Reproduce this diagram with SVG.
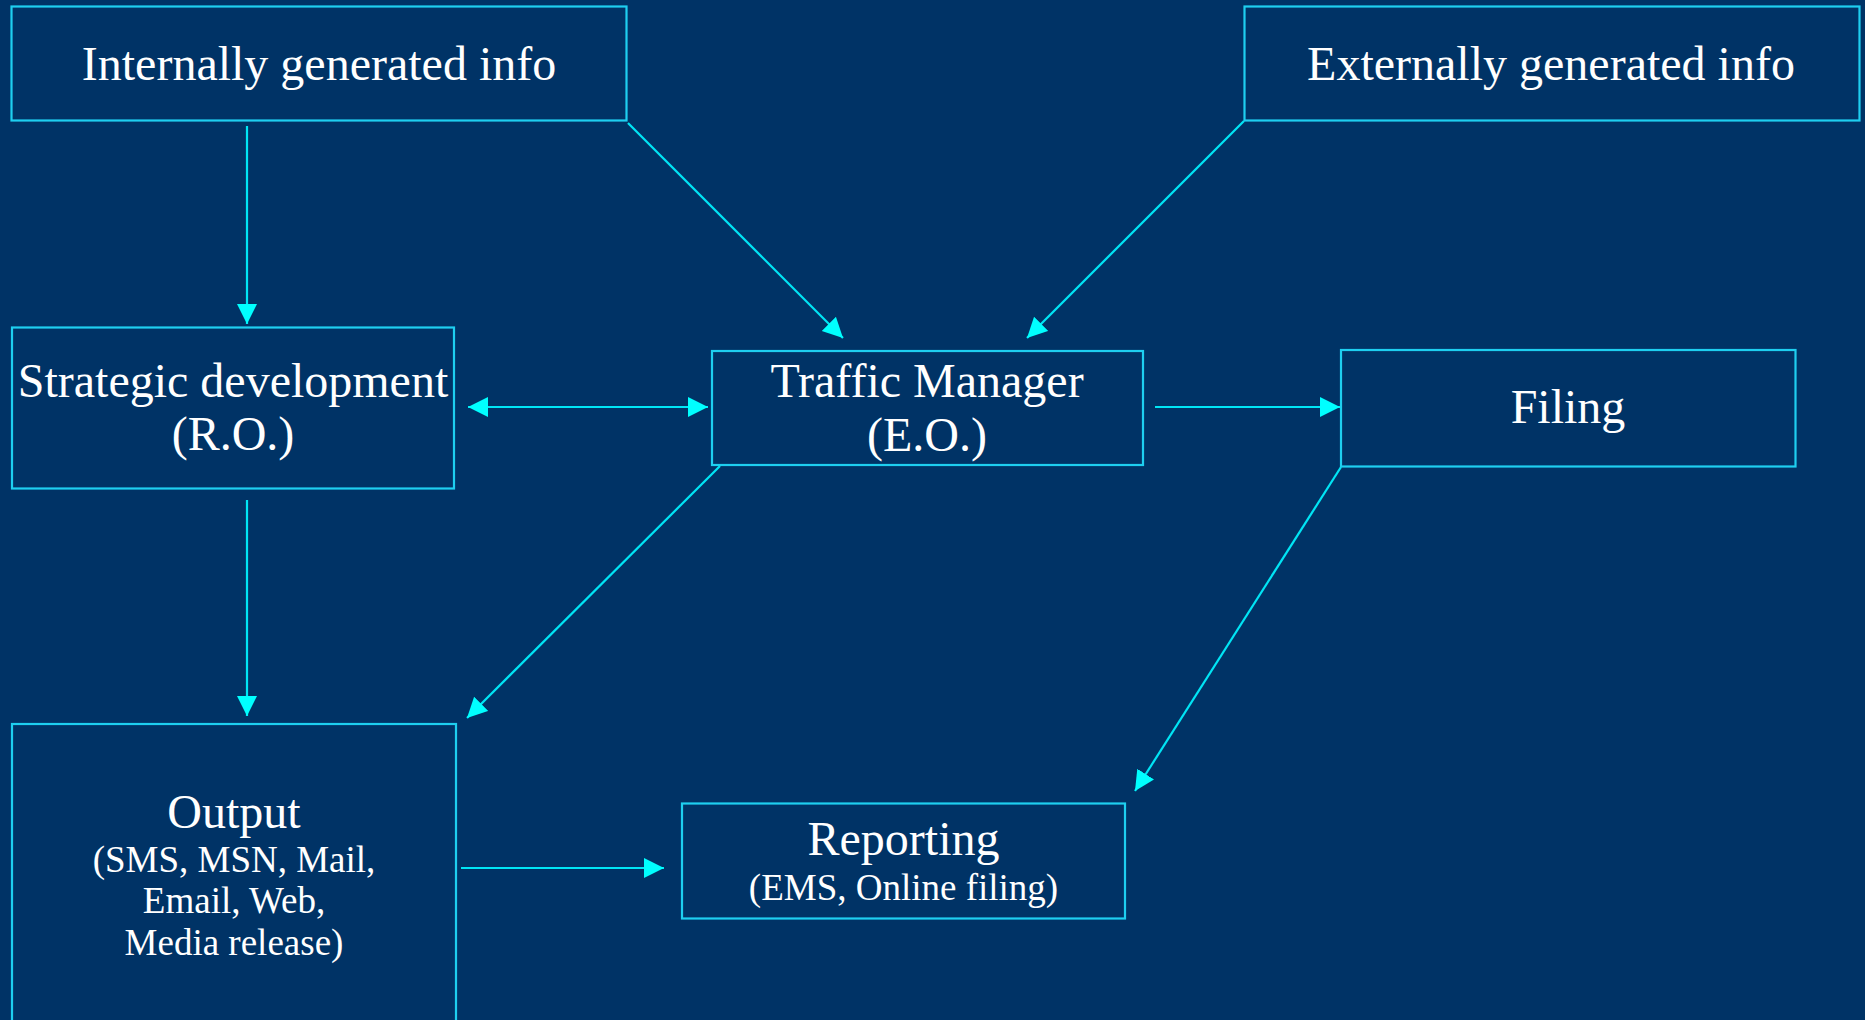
<svg xmlns="http://www.w3.org/2000/svg" width="1865" height="1020" viewBox="0 0 1865 1020">
  <style>
    .box { fill: #003366; stroke: #1ECFF0; stroke-width: 2.2; }
    .lbl { font-family: "Liberation Serif", "Times New Roman", serif; fill: #FFFFFF; text-anchor: middle; }
    .big { font-size: 48px; }
    .small { font-size: 37px; }
    .conn { stroke: #00E5F5; stroke-width: 2.2; fill: none; }
  </style>
  <defs>
    <marker id="head" markerUnits="userSpaceOnUse" markerWidth="22" markerHeight="22" refX="20" refY="10" orient="auto-start-reverse" viewBox="0 0 22 22">
      <path d="M0,0 L20,10 L0,20 Z" fill="#00FFFF"/>
    </marker>
  </defs>

  <rect x="0" y="0" width="1865" height="1020" fill="#003366"/>

  <!-- connectors -->
  <g id="connectors">
    <line class="conn" x1="247" y1="126" x2="247" y2="324" marker-end="url(#head)"/>
    <line class="conn" x1="628" y1="123" x2="843" y2="338" marker-end="url(#head)"/>
    <line class="conn" x1="1244" y1="121" x2="1027" y2="338" marker-end="url(#head)"/>
    <line class="conn" x1="468" y1="407" x2="708" y2="407" marker-start="url(#head)" marker-end="url(#head)"/>
    <line class="conn" x1="1155" y1="407" x2="1340" y2="407" marker-end="url(#head)"/>
    <line class="conn" x1="247" y1="500" x2="247" y2="716" marker-end="url(#head)"/>
    <line class="conn" x1="720" y1="466" x2="467" y2="718" marker-end="url(#head)"/>
    <line class="conn" x1="1341" y1="467" x2="1135" y2="791" marker-end="url(#head)"/>
    <line class="conn" x1="461" y1="868" x2="664" y2="868" marker-end="url(#head)"/>
  </g>

  <!-- nodes -->
  <g id="internal-info">
    <rect class="box" x="11.5" y="6.5" width="615" height="114"/>
    <text class="lbl big" x="319" y="80">Internally generated info</text>
  </g>

  <g id="external-info">
    <rect class="box" x="1244.5" y="6.5" width="615" height="114"/>
    <text class="lbl big" x="1551" y="80">Externally generated info</text>
  </g>

  <g id="strategic-development">
    <rect class="box" x="12" y="327.5" width="442" height="161"/>
    <text class="lbl big" x="233" y="397">Strategic development</text>
    <text class="lbl big" x="233" y="450">(R.O.)</text>
  </g>

  <g id="traffic-manager">
    <rect class="box" x="712" y="351" width="431" height="114"/>
    <text class="lbl big" x="927" y="397">Traffic Manager</text>
    <text class="lbl big" x="927" y="451">(E.O.)</text>
  </g>

  <g id="filing">
    <rect class="box" x="1341" y="350" width="454.5" height="116.5"/>
    <text class="lbl big" x="1568" y="423">Filing</text>
  </g>

  <g id="output">
    <rect class="box" x="12" y="724" width="444" height="320"/>
    <text class="lbl big" x="234" y="828">Output</text>
    <text class="lbl small" x="234" y="872">(SMS, MSN, Mail,</text>
    <text class="lbl small" x="234" y="913">Email, Web,</text>
    <text class="lbl small" x="234" y="955">Media release)</text>
  </g>

  <g id="reporting">
    <rect class="box" x="682" y="803.5" width="443" height="115"/>
    <text class="lbl big" x="903.5" y="855">Reporting</text>
    <text class="lbl small" x="903.5" y="900">(EMS, Online filing)</text>
  </g>
</svg>
